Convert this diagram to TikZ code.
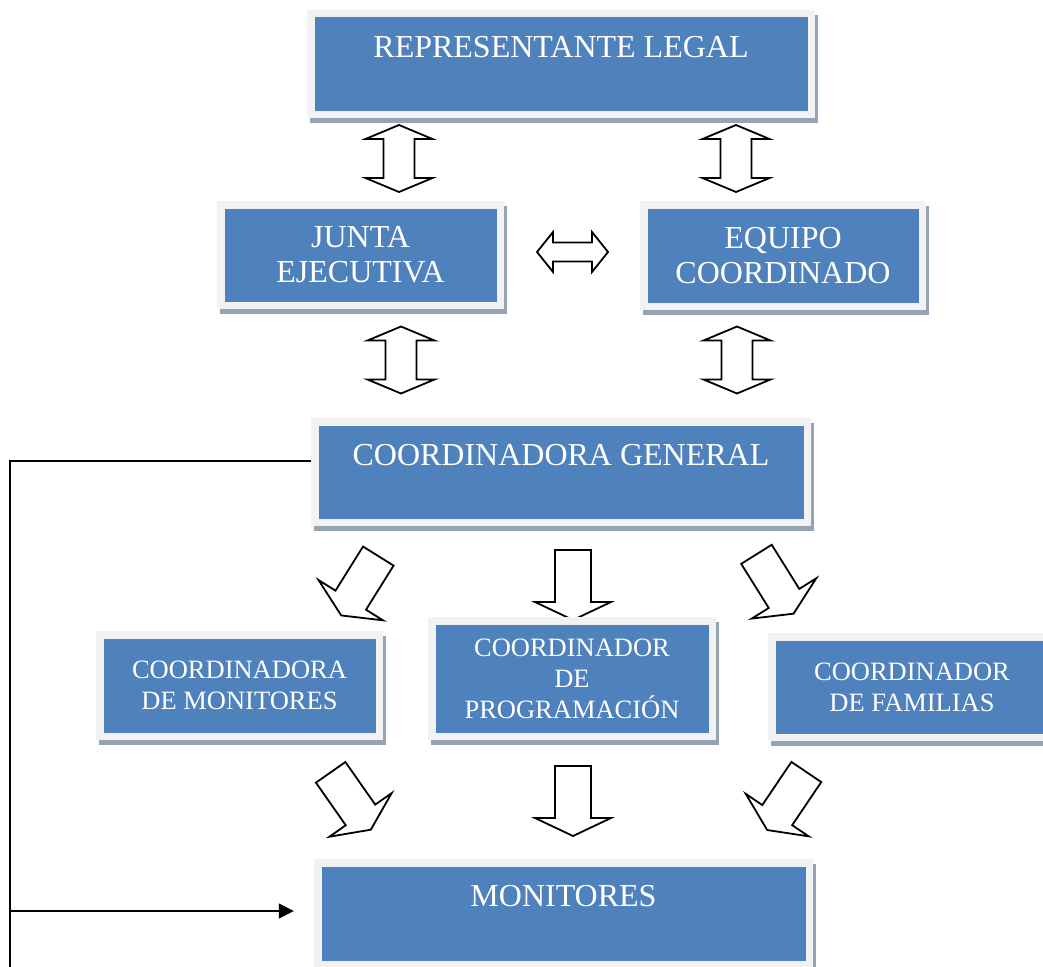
\documentclass[tikz,border=0pt]{standalone}
\usepackage{fontspec}
\setmainfont{Liberation Serif}
\usetikzlibrary{shadows,arrows.meta}

\definecolor{azul}{HTML}{4F81BD}
\definecolor{marco}{HTML}{F2F2F2}
\definecolor{sombra}{HTML}{95A3B5}

\newcommand{\letragrande}{\fontsize{32}{35}\selectfont}
\newcommand{\letrachica}{\fontsize{26.5}{31}\selectfont}

\tikzset{
  bloque/.style={fill=marco, inner sep=0pt, align=center, text=white, font=\letragrande,
    drop shadow={shadow xshift=3pt, shadow yshift=-5pt, fill=sombra, opacity=1},
    path picture={\fill[azul] ([shift={(7.5pt,-7.5pt)}]path picture bounding box.north west) rectangle ([shift={(-7.5pt,7.5pt)}]path picture bounding box.south east);}},
  linea/.style={line width=1.5pt},
  flecha/.pic={\draw[line width=1.8pt, fill=white] (-18,-35) -- (18,-35) -- (18,17) -- (38,17) -- (0,35) -- (-38,17) -- (-18,17) -- cycle;},
  doblev/.pic={\draw[line width=1.8pt, fill=white] (0,-33.5) -- (33.5,-19.5) -- (15.5,-19.5) -- (15.5,19.5) -- (33.5,19.5) -- (0,33.5) -- (-33.5,19.5) -- (-15.5,19.5) -- (-15.5,-19.5) -- (-33.5,-19.5) -- cycle;},
  dobleh/.pic={\draw[line width=1.8pt, fill=white] (-35.5,0) -- (-19.5,-20) -- (-19.5,-9.5) -- (19.5,-9.5) -- (19.5,-20) -- (35.5,0) -- (19.5,20) -- (19.5,9.5) -- (-19.5,9.5) -- (-19.5,20) -- cycle;},
}

\begin{document}
\begin{tikzpicture}[x=1pt,y=-1pt]
\useasboundingbox (0,0) rectangle (1043,966);
\clip (0,0) rectangle (1043,966);

% flechas de bloque
\pic at (399,158.5) {doblev};
\pic at (736,158.5) {doblev};
\pic at (572.5,252) {dobleh};
\pic at (401,360) {doblev};
\pic at (737,360) {doblev};

\pic[rotate=-32] at (359.75,585.75) {flecha};
\pic at (573,585) {flecha};
\pic[rotate=32] at (775,584) {flecha};

\pic[rotate=35] at (350.75,801) {flecha};
\pic at (573,801) {flecha};
\pic[rotate=-34] at (786.75,801) {flecha};

% cajas
\node[bloque, minimum width=508pt, minimum height=108pt] (representante) at (561,64) {REPRESENTANTE LEGAL\\\phantom{X}};
\node[bloque, minimum width=287pt, minimum height=108pt] (junta) at (360.5,255) {JUNTA\\EJECUTIVA};
\node[bloque, minimum width=286pt, minimum height=109pt] (equipo) at (783,255.5) {EQUIPO\\COORDINADO};
\node[bloque, minimum width=500pt, minimum height=108pt] (general) at (561,472) {COORDINADORA GENERAL\\\phantom{X}};

\node[bloque, font=\letrachica, minimum width=287pt, minimum height=109pt] (monitoras) at (239.5,685.5) {COORDINADORA\\DE MONITORES};
\node[bloque, font=\letrachica, minimum width=288pt, minimum height=123pt] (programacion) at (572,678.5) {COORDINADOR\\DE\\PROGRAMACIÓN};
\node[bloque, font=\letrachica, minimum width=288pt, minimum height=108pt] (familias) at (912,687) {COORDINADOR\\DE FAMILIAS};

\node[bloque, minimum width=499pt, minimum height=109pt] (monitores) at (563.5,913.5) {MONITORES\\\phantom{X}};

% lineas de la izquierda
\coordinate (base) at (10,970);
\coordinate (rama) at (10,911);
\coordinate (puntaflecha) at ([xshift=-20pt]monitores.west);
\draw[linea] ([yshift=11pt]general.west) -| (base);
\draw[linea, -{Triangle[length=15pt,width=15pt]}] (rama) -- (rama -| puntaflecha);

\end{tikzpicture}
\end{document}
